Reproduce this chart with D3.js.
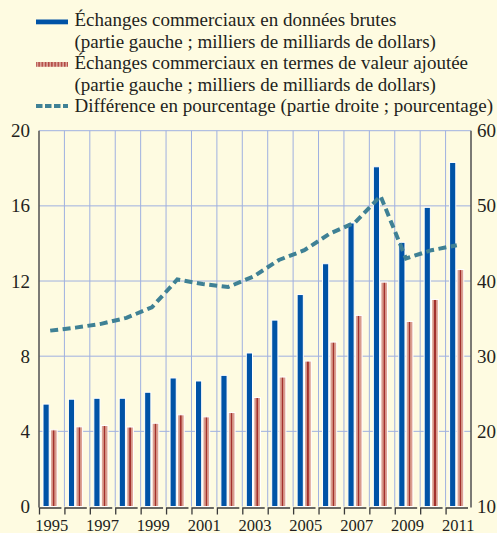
<!DOCTYPE html>
<html>
<head>
<meta charset="utf-8">
<script src="https://cdn.jsdelivr.net/npm/d3@7"></script>
<style>
  html, body { margin: 0; padding: 0; background: #fefbe1; }
  svg { display: block; }
</style>
</head>
<body>
<svg id="chart"></svg>
<script>
const years = d3.range(1995, 2012);
const yearLabels = [1995, 1997, 1999, 2001, 2003, 2005, 2007, 2009, 2011];
const grossTrade = [5.45, 5.71, 5.76, 5.76, 6.08, 6.84, 6.68, 6.98, 8.17, 9.92, 11.28, 12.92, 15.09, 18.08, 14.06, 15.92, 18.31];
const valueAdded = [4.08, 4.24, 4.31, 4.23, 4.43, 4.88, 4.77, 5.0, 5.8, 6.89, 7.74, 8.75, 10.17, 11.94, 9.85, 11.02, 12.61];
const pctDiff = [33.4, 33.8, 34.3, 35.1, 36.5, 40.2, 39.6, 39.2, 40.6, 42.8, 44.1, 46.3, 47.8, 51.3, 43.0, 44.1, 44.75];
const leftTicks = [0, 4, 8, 12, 16, 20];
const rightTicks = [10, 20, 30, 40, 50, 60];
const legendLines = [
  'Échanges commerciaux en données brutes',
  '(partie gauche ; milliers de milliards de dollars)',
  'Échanges commerciaux en termes de valeur ajoutée',
  '(partie gauche ; milliers de milliards de dollars)',
  'Différence en pourcentage (partie droite ; pourcentage)'
];

const width = 497;
const height = 533;
const margin = { top: 130.7, right: 26, bottom: 26.5, left: 39 };
const serif = '"Liberation Serif", "Times New Roman", serif';
const ink = '#231f20';

const svg = d3.select('#chart')
  .attr('width', width)
  .attr('height', height);

svg.append('rect')
  .attr('width', width).attr('height', height)
  .attr('fill', '#fefbe1');

const x = d3.scaleBand()
  .domain(years)
  .range([margin.left, width - margin.right]);
const bw = x.bandwidth();

const yL = d3.scaleLinear().domain([0, 20]).range([height - margin.bottom, margin.top]);
const yR = d3.scaleLinear().domain([10, 60]).range([height - margin.bottom, margin.top]);

// grid
const grid = svg.append('g').attr('stroke', '#9fb0e0').attr('stroke-width', 1);
grid.selectAll('line.h')
  .data(leftTicks.slice(1))
  .join('line')
  .attr('x1', margin.left).attr('x2', width - margin.right)
  .attr('y1', d => yL(d)).attr('y2', d => yL(d));
grid.selectAll('line.v')
  .data(years.slice(1))
  .join('line')
  .attr('x1', d => x(d)).attr('x2', d => x(d))
  .attr('y1', yL(20)).attr('y2', yL(0));

// bars
const bars = svg.append('g');
bars.selectAll('rect.gross')
  .data(years)
  .join('rect')
  .attr('x', d => x(d) + 4)
  .attr('width', 6.2)
  .attr('y', (d, i) => yL(grossTrade[i]))
  .attr('height', (d, i) => yL(0) - yL(grossTrade[i]))
  .attr('fill', '#0053a6')
  .attr('stroke', '#ffffff')
  .attr('stroke-width', 1);

const defs = svg.append('defs');
const grad = defs.append('linearGradient').attr('id', 'redgrad')
  .attr('x1', '0%').attr('x2', '100%').attr('y1', '0%').attr('y2', '0%');
[['0%', '#ebbdb2'], ['25%', '#d69a8c'], ['40%', '#cc8374'], ['43%', '#a3302d'], ['58%', '#a3302d'], ['61%', '#d08d7e'], ['100%', '#e6b0a4']]
  .forEach(([o, c]) => grad.append('stop').attr('offset', o).attr('stop-color', c));

bars.selectAll('rect.va')
  .data(years)
  .join('rect')
  .attr('x', d => x(d) + 11.4)
  .attr('width', 6.8)
  .attr('y', (d, i) => yL(valueAdded[i]))
  .attr('height', (d, i) => yL(0) - yL(valueAdded[i]))
  .attr('fill', 'url(#redgrad)')
  .attr('stroke', '#ffffff')
  .attr('stroke-width', 1);

// axes lines
svg.append('line')
  .attr('x1', margin.left).attr('x2', margin.left)
  .attr('y1', yL(20)).attr('y2', yL(0) + 1)
  .attr('stroke', '#5a5a5a').attr('stroke-width', 1.6);
svg.append('line')
  .attr('x1', width - margin.right).attr('x2', width - margin.right)
  .attr('y1', yL(20)).attr('y2', yL(0) + 1)
  .attr('stroke', '#5a5a5a').attr('stroke-width', 1.6);

// bottom axis: bracket per band
svg.append('g')
  .selectAll('path')
  .data(years)
  .join('path')
  .attr('d', d => `M${x(d) + 0.5},${yL(0) + 8}V${yL(0) + 1.5}H${x(d) + bw - 3}`)
  .attr('fill', 'none')
  .attr('stroke', '#3a3a3a')
  .attr('stroke-width', 1.3);

svg.append('g')
  .selectAll('text')
  .data(yearLabels)
  .join('text')
  .attr('x', d => x(d) + bw / 2)
  .attr('y', 530.5)
  .attr('text-anchor', 'middle')
  .style('font-family', serif)
  .style('font-size', '16.5px')
  .style('fill', ink)
  .text(d => d);

// y labels
const leftAxis = svg.append('g')
  .attr('transform', `translate(${margin.left},0)`)
  .call(d3.axisLeft(yL).tickValues(leftTicks).tickSize(0).tickPadding(9).tickFormat(d3.format('d')));
const rightAxis = svg.append('g')
  .attr('transform', `translate(${width - margin.right},0)`)
  .call(d3.axisRight(yR).tickValues(rightTicks).tickSize(0).tickPadding(6).tickFormat(d3.format('d')));
[leftAxis, rightAxis].forEach(g => {
  g.select('.domain').remove();
  g.selectAll('text')
    .style('font-family', serif)
    .style('font-size', '19px')
    .style('fill', ink);
});

// line
const line = d3.line()
  .x((d, i) => x(years[i]) + bw / 2 - 1.5)
  .y(d => yR(d));
svg.append('path')
  .datum(pctDiff)
  .attr('d', line)
  .attr('fill', 'none')
  .attr('stroke', '#3f8195')
  .attr('stroke-width', 4)
  .attr('stroke-dasharray', '8,4.5');

// legend
const legend = svg.append('g');
legend.selectAll('text')
  .data(legendLines)
  .join('text')
  .attr('x', 74.5)
  .attr('y', (d, i) => 26 + i * 21.6)
  .style('font-family', serif)
  .style('font-size', '19px')
  .style('fill', ink)
  .text(d => d);

legend.append('rect')
  .attr('x', 36).attr('y', 19.5).attr('width', 32).attr('height', 4.8)
  .attr('fill', '#0053a6');

const pat = defs.append('pattern').attr('id', 'stripes')
  .attr('patternUnits', 'userSpaceOnUse').attr('width', 3.2).attr('height', 6);
pat.append('rect').attr('width', 3.2).attr('height', 6).attr('fill', '#dba49a');
pat.append('rect').attr('width', 1.4).attr('height', 6).attr('fill', '#b0443d');
legend.append('rect')
  .attr('x', 36).attr('y', 62).attr('width', 32).attr('height', 4.8)
  .attr('fill', 'url(#stripes)');

legend.append('line')
  .attr('x1', 36).attr('x2', 68)
  .attr('y1', 106).attr('y2', 106)
  .attr('stroke', '#3f8195')
  .attr('stroke-width', 4)
  .attr('stroke-dasharray', '6.5,2.5');
</script>
</body>
</html>
